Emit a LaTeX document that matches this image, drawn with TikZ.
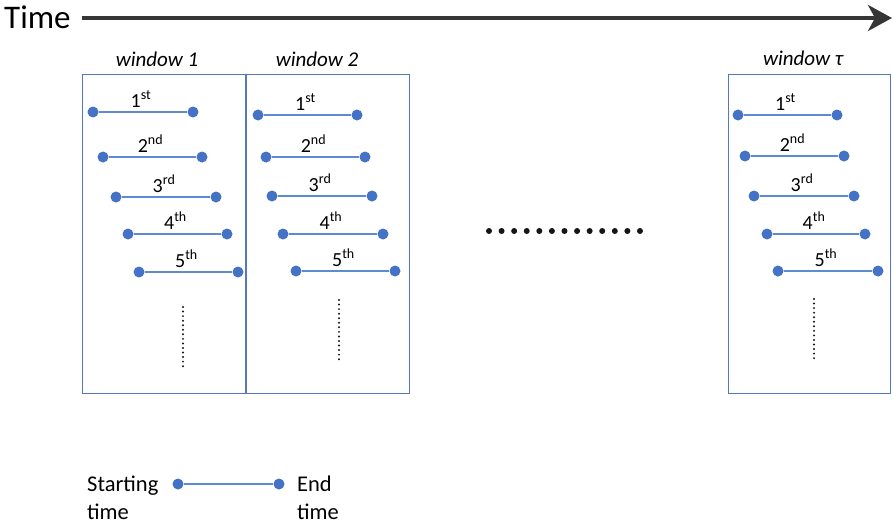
\documentclass[tikz,border=0pt]{standalone}
\usepackage{fontspec}
\setmainfont{Carlito}
\usetikzlibrary{arrows.meta}

\definecolor{boxblue}{HTML}{5478BC}
\definecolor{dotblue}{HTML}{4472C4}
\definecolor{segblue}{HTML}{5E8AD2}
\definecolor{arrowgray}{HTML}{363636}
\definecolor{ellipsis}{HTML}{151515}

% One window: segment endpoints, the segment and its ordinal label
\newcommand\segwindow[2]{%
  \foreach \xa/\xb/\yy/\sfx [count=\k] in {#2}{%
    \node[endpt] (#1a\k) at (\xa,\yy) {};
    \node[endpt] (#1b\k) at (\xb,\yy) {};
    \draw[seg] (#1a\k) -- (#1b\k);
    \node[ordlabel] (#1l\k) at ({(\xa+\xb)/2-2},{\yy-5}) {\k\textsuperscript{\sfx}};
  }%
}

\begin{document}
\begin{tikzpicture}[x=1pt,y=-1pt,
  endpt/.style={circle,fill=dotblue,inner sep=0pt,minimum size=11pt},
  seg/.style={segblue,line width=1.1pt},
  winbox/.style={draw=boxblue,line width=1.1pt,inner sep=0pt,anchor=north west},
  winlabel/.style={font=\itshape\fontsize{21}{21}\selectfont,anchor=base,inner sep=0pt},
  ordlabel/.style={font=\fontsize{20}{20}\selectfont,anchor=base,inner sep=0pt},
  legendtext/.style={font=\fontsize{22.5}{22.5}\selectfont,anchor=base west,inner sep=0pt},
  vdots/.style={ellipsis,line width=2.2pt,line cap=round,dash pattern=on 0pt off 4.55pt},
  hdots/.style={ellipsis,line width=6pt,line cap=round,dash pattern=on 0pt off 12.58pt},
  timearrow/.style={arrowgray,line width=4pt,-{Stealth[length=24pt,width=26pt,inset=7pt]}}
]
\useasboundingbox (0,0) rectangle (893,525);

% time axis
\node[font=\fontsize{33}{33}\selectfont,anchor=base west,inner sep=0pt] (time) at (4,28) {Time};
\coordinate (tstart) at (82,18);
\coordinate (tend) at (892,18);
\draw[timearrow] (tstart) -- (tend);

% window frames
\node[winbox,minimum width=163pt,minimum height=319pt] (w1) at (82,74) {};
\node[winbox,minimum width=163pt,minimum height=319pt] (w2) at (246,74) {};
\node[winbox,minimum width=162pt,minimum height=319pt] (wt) at (727.5,74) {};

\node[winlabel] (w1name) at (157,66) {window 1};
\node[winlabel] (w2name) at (317,66) {window 2};
\node[winlabel] (wtname) at (803,65) {window τ};

% segments
\segwindow{p}{93/193/112/st,103/202/157/nd,116/216/197/rd,128/227/234/th,139/238/272/th}
\segwindow{q}{258/357/115/st,266/365/157/nd,272/372/196/rd,283/383/234/th,296/395/271/th}
\segwindow{r}{738/837/115/st,745/844/156/nd,754/854/196/rd,767/865/234/th,778/878/271/th}

% vertical ellipses inside the windows
\coordinate (v1a) at (183,307); \coordinate (v1b) at (183,366.5);
\coordinate (v2a) at (339,300); \coordinate (v2b) at (339,359.5);
\coordinate (v3a) at (814,299); \coordinate (v3b) at (814,358.5);
\draw[vdots] (v1a) -- (v1b);
\draw[vdots] (v2a) -- (v2b);
\draw[vdots] (v3a) -- (v3b);

% horizontal ellipsis between windows
\coordinate (h1) at (489,231); \coordinate (h2) at (640.5,231);
\draw[hdots] (h1) -- (h2);

% legend
\node[endpt] (lga) at (178,484) {};
\node[endpt] (lgb) at (279,484) {};
\draw[seg] (lga) -- (lgb);
\node[legendtext] (lgs1) at (87,491) {Starting};
\node[legendtext] (lgs2) at (87,519) {time};
\node[legendtext] (lge1) at (297,491) {End};
\node[legendtext] (lge2) at (297,519) {time};
\end{tikzpicture}
\end{document}
